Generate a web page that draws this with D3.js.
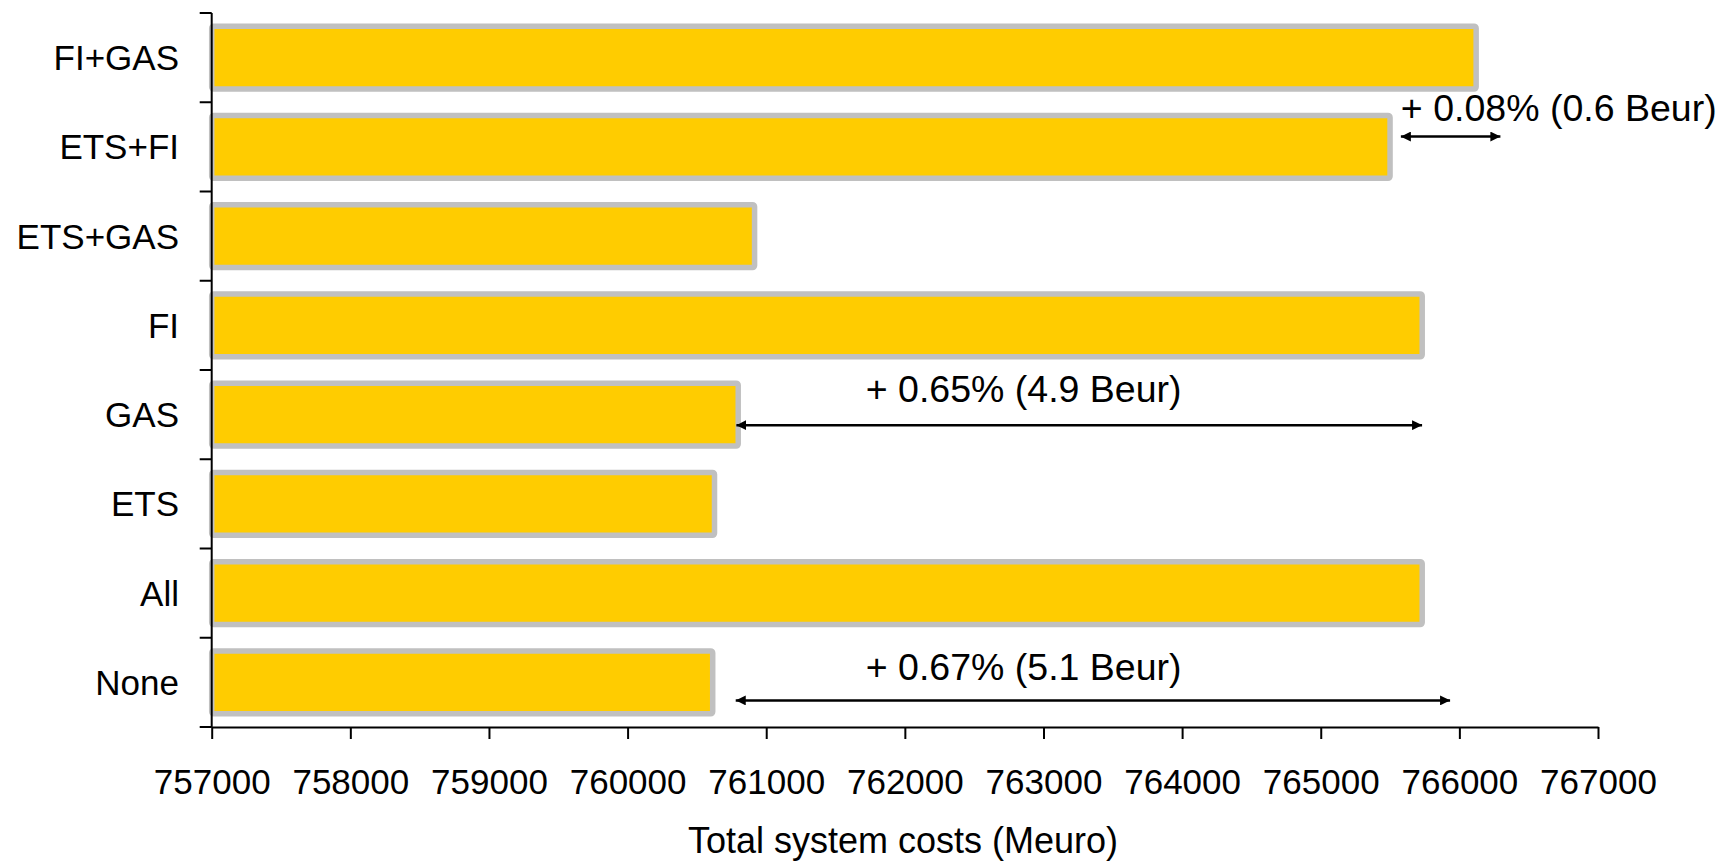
<!DOCTYPE html>
<html>
<head>
<meta charset="utf-8">
<script src="https://cdn.jsdelivr.net/npm/d3@7"></script>
<style>
  html, body { margin: 0; padding: 0; background: #fff; }
  svg { display: block; font-family: "Liberation Sans", Arial, sans-serif; }
</style>
</head>
<body>
<svg id="chart" width="1727" height="862"></svg>
<script>
// ---- data ----
const categories = ["FI+GAS", "ETS+FI", "ETS+GAS", "FI", "GAS", "ETS", "All", "None"];
const costs = [766121, 765500, 760916, 765732, 760798, 760627, 765732, 760614];
const xTicks = [757000, 758000, 759000, 760000, 761000, 762000, 763000, 764000, 765000, 766000, 767000];
const xDomain = [757000, 767000];
const xTitle = "Total system costs (Meuro)";

// annotations (difference arrows)
const annoLabels = ["+ 0.08% (0.6 Beur)", "+ 0.65% (4.9 Beur)", "+ 0.67% (5.1 Beur)"];
const annoCategory = ["ETS+FI", "GAS", "None"];
const annoFrom = [765578, 760785, 760780];
const annoTo = [766296, 765731, 765933];
const annoTextAt = [765578, 762857, 762857];

// ---- layout (not data) ----
const annoArrowDy = [-10.3, 10.5, 18];   // arrow offset from band centre
const annoTextDy = [-16, -23, -20.5];    // text baseline offset from arrow
const annoAnchor = ["start", "middle", "middle"];

const plotLeft = 211.7, plotRight = 1598, plotTop = 13, plotBottom = 727;
const fontSize = 35, titleSize = 36, annoSize = 37.5;

const svg = d3.select("#chart");

const x = d3.scaleLinear().domain(xDomain).range([plotLeft, plotRight]);
const y = d3.scaleBand().domain(categories).range([plotTop, plotBottom])
  .paddingInner(0.295).paddingOuter(0.1475);
const step = y.step();

// bars
svg.append("g").selectAll("rect")
  .data(categories)
  .join("rect")
  .attr("x", x(xDomain[0]))
  .attr("y", d => y(d))
  .attr("width", (d, i) => x(costs[i]) - x(xDomain[0]))
  .attr("height", y.bandwidth())
  .attr("rx", 2)
  .attr("fill", "#FFCC00")
  .attr("stroke", "#C0C0C0")
  .attr("stroke-width", 5.5);

// x axis
const xAxis = d3.axisBottom(x).tickValues(xTicks).tickFormat(d3.format("d"))
  .tickSizeInner(12).tickSizeOuter(0).tickPadding(24);
const gx = svg.append("g").attr("transform", `translate(0,${plotBottom})`).call(xAxis);
gx.select(".domain").attr("stroke", "#000").attr("stroke-width", 2);
gx.selectAll(".tick line").attr("stroke", "#000").attr("stroke-width", 2);
gx.selectAll(".tick text")
  .attr("font-size", fontSize)
  .attr("font-family", "Liberation Sans, Arial, sans-serif")
  .attr("fill", "#000")
  .attr("dy", null)
  .attr("y", 67);

// y axis: line with ticks on band boundaries
const gy = svg.append("g");
gy.append("line")
  .attr("x1", plotLeft).attr("x2", plotLeft)
  .attr("y1", plotTop).attr("y2", plotBottom)
  .attr("stroke", "#000").attr("stroke-width", 2);
const boundaries = categories.map(c => y(c) - y.paddingOuter() * step).concat([plotBottom]);
gy.selectAll("line.tick")
  .data(boundaries)
  .join("line")
  .attr("class", "tick")
  .attr("x1", plotLeft - 12).attr("x2", plotLeft)
  .attr("y1", d => d).attr("y2", d => d)
  .attr("stroke", "#000").attr("stroke-width", 2);
gy.selectAll("text")
  .data(categories)
  .join("text")
  .attr("x", 179)
  .attr("y", d => y(d) + y.bandwidth() / 2)
  .attr("dy", "0.36em")
  .attr("text-anchor", "end")
  .attr("font-size", fontSize)
  .attr("fill", "#000")
  .text(d => d);

// x title
svg.append("text")
  .attr("x", 903)
  .attr("y", 853)
  .attr("text-anchor", "middle")
  .attr("font-size", titleSize)
  .attr("fill", "#000")
  .text(xTitle);

// arrow markers
const defs = svg.append("defs");
defs.append("marker")
  .attr("id", "arrEnd")
  .attr("markerUnits", "userSpaceOnUse")
  .attr("viewBox", "0 -5 10 10")
  .attr("refX", 10).attr("refY", 0)
  .attr("markerWidth", 10).attr("markerHeight", 10)
  .attr("orient", "auto")
  .append("path").attr("d", "M0,-5L10,0L0,5Z").attr("fill", "#000");
defs.append("marker")
  .attr("id", "arrStart")
  .attr("markerUnits", "userSpaceOnUse")
  .attr("viewBox", "0 -5 10 10")
  .attr("refX", 0).attr("refY", 0)
  .attr("markerWidth", 10).attr("markerHeight", 10)
  .attr("orient", "auto")
  .append("path").attr("d", "M10,-5L0,0L10,5Z").attr("fill", "#000");

const ga = svg.append("g");
annoLabels.forEach((lab, i) => {
  const cy = y(annoCategory[i]) + y.bandwidth() / 2 + annoArrowDy[i];
  ga.append("line")
    .attr("x1", x(annoFrom[i])).attr("x2", x(annoTo[i]))
    .attr("y1", cy).attr("y2", cy)
    .attr("stroke", "#000").attr("stroke-width", 2.5)
    .attr("marker-start", "url(#arrStart)")
    .attr("marker-end", "url(#arrEnd)");
  ga.append("text")
    .attr("x", x(annoTextAt[i]))
    .attr("y", cy + annoTextDy[i])
    .attr("text-anchor", annoAnchor[i])
    .attr("font-size", annoSize)
    .attr("fill", "#000")
    .text(lab);
});
</script>
</body>
</html>
